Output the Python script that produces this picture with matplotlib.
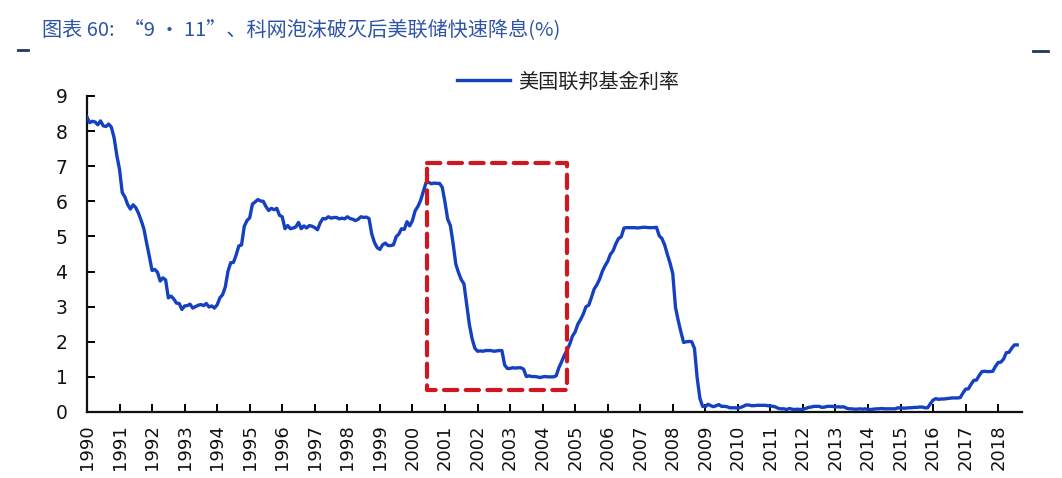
#Load packages
import numpy as np
import matplotlib
matplotlib.use('Agg')
import matplotlib.pyplot as plt
import matplotlib.lines as mlines

plt.rcParams['font.family'] = ['Noto Sans CJK SC', 'DejaVu Sans']

# =============================================================================
# Data: monthly US federal funds rate (%), Jan 1990 - Aug 2018
# =============================================================================
rate_1990s = [
    8.40, 8.24, 8.28, 8.26, 8.18, 8.29, 8.15, 8.13, 8.20, 8.11, 7.81, 7.31,   # 1990
    6.91, 6.25, 6.12, 5.91, 5.78, 5.90, 5.82, 5.66, 5.45, 5.21, 4.81, 4.43,   # 1991
    4.03, 4.06, 3.98, 3.73, 3.82, 3.76, 3.25, 3.30, 3.22, 3.10, 3.09, 2.92,   # 1992
    3.02, 3.03, 3.07, 2.96, 3.00, 3.04, 3.06, 3.03, 3.09, 2.99, 3.02, 2.96,   # 1993
    3.05, 3.25, 3.34, 3.56, 4.01, 4.25, 4.26, 4.47, 4.73, 4.76, 5.29, 5.45,   # 1994
    5.53, 5.92, 5.98, 6.05, 6.01, 6.00, 5.85, 5.74, 5.80, 5.76, 5.80, 5.60,   # 1995
    5.56, 5.22, 5.31, 5.22, 5.24, 5.27, 5.40, 5.22, 5.30, 5.24, 5.31, 5.29,   # 1996
    5.25, 5.19, 5.39, 5.51, 5.50, 5.56, 5.52, 5.54, 5.54, 5.50, 5.52, 5.50,   # 1997
    5.56, 5.51, 5.49, 5.45, 5.49, 5.56, 5.54, 5.55, 5.51, 5.07, 4.83, 4.68,   # 1998
    4.63, 4.76, 4.81, 4.74, 4.74, 4.76, 4.99, 5.07, 5.22, 5.20, 5.42, 5.30,   # 1999
]
rate_2000s = [
    5.45, 5.73, 5.85, 6.02, 6.27, 6.53, 6.54, 6.50, 6.52, 6.51, 6.51, 6.40,   # 2000
    5.98, 5.49, 5.31, 4.80, 4.21, 3.97, 3.77, 3.65, 3.07, 2.49, 2.09, 1.82,   # 2001
    1.73, 1.74, 1.73, 1.75, 1.75, 1.75, 1.73, 1.74, 1.75, 1.75, 1.34, 1.24,   # 2002
    1.24, 1.26, 1.25, 1.26, 1.26, 1.22, 1.01, 1.03, 1.01, 1.01, 1.00, 0.98,   # 2003
    1.00, 1.01, 1.00, 1.00, 1.00, 1.03, 1.26, 1.43, 1.61, 1.76, 1.93, 2.16,   # 2004
    2.28, 2.50, 2.63, 2.79, 3.00, 3.04, 3.26, 3.50, 3.62, 3.78, 4.00, 4.16,   # 2005
    4.29, 4.49, 4.59, 4.79, 4.94, 4.99, 5.24, 5.25, 5.25, 5.25, 5.25, 5.24,   # 2006
    5.25, 5.26, 5.26, 5.25, 5.25, 5.25, 5.26, 5.02, 4.94, 4.76, 4.49, 4.24,   # 2007
    3.94, 2.98, 2.61, 2.28, 1.98, 2.00, 2.01, 2.00, 1.81, 0.97, 0.39, 0.16,   # 2008
    0.15, 0.22, 0.18, 0.15, 0.18, 0.21, 0.16, 0.16, 0.15, 0.12, 0.12, 0.12,   # 2009
]
rate_2010s = [
    0.11, 0.13, 0.16, 0.20, 0.20, 0.18, 0.18, 0.19, 0.19, 0.19, 0.19, 0.18,   # 2010
    0.17, 0.16, 0.14, 0.10, 0.09, 0.09, 0.07, 0.10, 0.08, 0.07, 0.08, 0.07,   # 2011
    0.08, 0.10, 0.13, 0.14, 0.16, 0.16, 0.16, 0.13, 0.14, 0.16, 0.16, 0.16,   # 2012
    0.14, 0.15, 0.14, 0.15, 0.11, 0.09, 0.09, 0.08, 0.08, 0.09, 0.08, 0.09,   # 2013
    0.07, 0.07, 0.08, 0.09, 0.09, 0.10, 0.09, 0.09, 0.09, 0.09, 0.09, 0.12,   # 2014
    0.11, 0.11, 0.11, 0.12, 0.12, 0.13, 0.13, 0.14, 0.14, 0.12, 0.12, 0.24,   # 2015
    0.34, 0.38, 0.36, 0.37, 0.37, 0.38, 0.39, 0.40, 0.40, 0.40, 0.41, 0.54,   # 2016
    0.65, 0.66, 0.79, 0.90, 0.91, 1.04, 1.15, 1.16, 1.15, 1.15, 1.16, 1.30,   # 2017
    1.41, 1.42, 1.51, 1.69, 1.70, 1.82, 1.91, 1.91,                           # 2018
]
rate = rate_1990s + rate_2000s + rate_2010s
months = 1990 + np.arange(len(rate)) / 12.0

years = list(range(1990, 2019))
yticks = list(range(0, 10))

# highlighted period after 9/11 and the dot-com crash
box_x = [2000.45, 2004.75]
box_y = [0.63, 7.09]

title = '图表 60:  “9 · 11”、科网泡沫破灭后美联储快速降息(%)'
series_name = '美国联邦基金利率'

# =============================================================================
# Plot Graph
# =============================================================================
fig = plt.figure(figsize=(10.62, 4.78), dpi=100)
ax = fig.add_axes([0.0819, 0.1381, 0.8804, 0.6611])

ax.plot(months, rate, color='#1540c0', linewidth=2.4, label=series_name,
        solid_joinstyle='round', zorder=3)

ax.plot([box_x[0], box_x[1], box_x[1], box_x[0], box_x[0]],
        [box_y[1], box_y[1], box_y[0], box_y[0], box_y[1]],
        color='#d0161e', linewidth=3.0, linestyle=(0, (3.2, 2.0)),
        dash_joinstyle='round', dash_capstyle='round', zorder=4)

ax.set_xlim(1990, 2018.73)
ax.set_ylim(0, 9)
ax.set_xticks(years)
ax.set_xticklabels([str(y) for y in years], rotation=90, fontsize=13,
                   family='DejaVu Sans', color='#111111')
ax.set_yticks(yticks)
ax.set_yticklabels([str(y) for y in yticks], fontsize=13.5,
                   family='DejaVu Sans', color='#111111')
ax.tick_params(axis='x', direction='in', length=6, width=1.4, pad=9)
ax.tick_params(axis='y', direction='in', length=6, width=1.4, pad=14)

for side in ['top', 'right']:
    ax.spines[side].set_visible(False)
for side in ['left', 'bottom']:
    ax.spines[side].set_linewidth(1.6)
    ax.spines[side].set_color('#111111')

ax.legend(loc='center', bbox_to_anchor=(568 / 1062, 1 - 82 / 478),
          bbox_transform=fig.transFigure, frameon=False, fontsize=14.5,
          handlelength=2.6, handletextpad=0.4, labelcolor='#222222')

fig.text(42 / 1062, 1 - 30 / 478, title, fontsize=14.5, style='italic',
         color='#2e54a8', va='center', ha='left')

# small decorative dashes under the title
fig.add_artist(mlines.Line2D([18 / 1062, 28 / 1062], [1 - 50 / 478, 1 - 50 / 478],
                             color='#203864', linewidth=2))
fig.add_artist(mlines.Line2D([1033 / 1062, 1048 / 1062], [1 - 51 / 478, 1 - 51 / 478],
                             color='#203864', linewidth=2))

fig.savefig('out.png', dpi=100, facecolor='white')
